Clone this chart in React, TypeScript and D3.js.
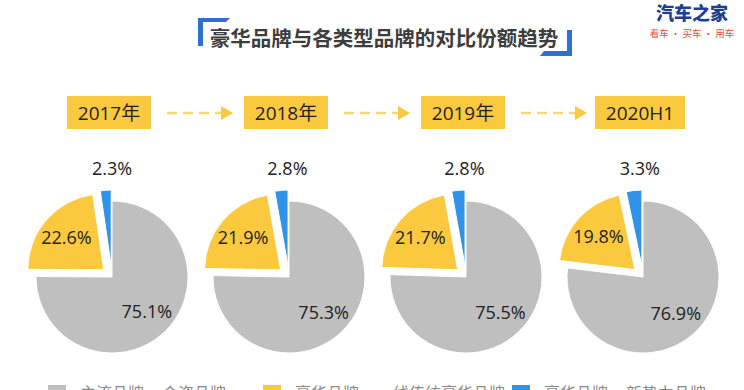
import React from 'react';
import * as d3 from 'd3';

// data
const years = ['2017年', '2018年', '2019年', '2020H1'];
const greyShare = [75.1, 75.3, 75.5, 76.9];
const yellowShare = [22.6, 21.9, 21.7, 19.8];
const blueShare = [2.3, 2.8, 2.8, 3.3];
const sliceNames = ['grey', 'yellow', 'blue'];
const legendLabels = [
  ['主流品牌', '合资品牌'],
  ['豪华品牌', '一线传统豪华品牌'],
  ['豪华品牌', '新势力品牌'],
];

const W = 744;
const H = 390;
const colors: Record<string, string> = {
  grey: '#bfbfbf',
  yellow: '#fac93e',
  blue: '#2f93ea',
};
const FONT = "'Open Sans', 'Noto Sans CJK SC', sans-serif";
const CJK = "'Noto Sans CJK SC', sans-serif";

export default function App() {
  const x = d3.scalePoint<string>().domain(years).range([112, 643]);
  const cy = 277;
  const radius = 76;
  const explode = 11;

  const pie = d3
    .pie<{ name: string; value: number }>()
    .value((d) => d.value)
    .sort(null);
  const arc = d3
    .arc<d3.PieArcDatum<{ name: string; value: number }>>()
    .innerRadius(0)
    .outerRadius(radius);

  return (
    <svg
      width={W}
      height={H}
      style={{ position: 'absolute', left: 0, top: 0, background: '#fff' }}
    >
      {/* title with blue corner brackets */}
      <path d="M198,18 L230,18 L226,22 L203,22 L203,46 L198,46 Z" fill="#2f6fd4" />
      <path d="M572,56 L540,56 L544,51 L567,51 L567,30 L572,30 Z" fill="#2f6fd4" />
      <text
        x={384}
        y={46}
        textAnchor="middle"
        fontFamily={CJK}
        fontSize={20.5}
        fontWeight="bold"
        fill="#3d3d3d"
      >
        豪华品牌与各类型品牌的对比份额趋势
      </text>

      {/* logo */}
      <text x={692} y={20} textAnchor="middle" fontFamily={CJK} fontSize={18} fontWeight="900" fill="#1c3f95">
        汽车之家
      </text>
      <text x={692} y={37} textAnchor="middle" fontFamily={CJK} fontSize={9.5} fill="#e5503a">
        看车 · 买车 · 用车
      </text>

      {years.map((yr, i) => {
        const cx = x(yr) as number;
        const bw = yr.length > 5 ? 90 : 84;
        const data = [greyShare[i], yellowShare[i], blueShare[i]].map((v, k) => ({
          name: sliceNames[k],
          value: v,
        }));
        const arcs = pie(data);
        const next = i < years.length - 1 ? (x(years[i + 1]) as number) : null;
        return (
          <g key={yr}>
            {/* year tag */}
            <rect x={cx - bw / 2 - 3} y={96} width={bw} height={33} fill="#fac93e" />
            <text
              x={cx - 3}
              y={119.5}
              textAnchor="middle"
              fontFamily={FONT}
              fontSize={19}
              fill="#222"
            >
              {yr}
            </text>
            {next !== null && (
              <g>
                <line
                  x1={cx + 55}
                  x2={next - 68}
                  y1={113}
                  y2={113}
                  stroke="#f6d873"
                  strokeWidth={2.5}
                  strokeDasharray="10,6"
                />
                <path
                  d={`M${next - 68},106 L${next - 56},113 L${next - 68},120 Z`}
                  fill="#f8c944"
                />
              </g>
            )}

            {/* pie */}
            {arcs.map((a) => {
              const mid = (a.startAngle + a.endAngle) / 2;
              const off = a.data.name === 'grey' ? 0 : explode;
              const dx = Math.sin(mid) * off;
              const dy = -Math.cos(mid) * off;
              const [lx, ly] =
                a.data.name === 'blue'
                  ? [Math.sin(mid) * (radius + 22), -Math.cos(mid) * (radius + 22)]
                  : [Math.sin(mid) * radius * 0.65, -Math.cos(mid) * radius * 0.65];
              return (
                <g key={a.data.name} transform={`translate(${cx + dx},${cy + dy})`}>
                  <path d={arc(a) || ''} fill={colors[a.data.name]} stroke="#fff" strokeWidth={1} />
                  <text
                    x={a.data.name === 'blue' ? lx + 8 : lx}
                    y={ly}
                    dy="0.35em"
                    textAnchor="middle"
                    fontFamily={FONT}
                    fontSize={18}
                    fill="#222"
                  >
                    {a.data.value.toFixed(1)}%
                  </text>
                </g>
              );
            })}
          </g>
        );
      })}

      {/* legend, cut off at the bottom edge as in the source */}
      {legendLabels.map((lab, i) => {
        const lx = [48, 263, 512][i];
        return (
          <g key={i}>
            <rect x={lx} y={385} width={18} height={10} fill={colors[sliceNames[i]]} />
            <text x={lx + 32} y={399} fontFamily={CJK} fontSize={16} fill="#8a8a8a">
              {lab[0]}
              <tspan dx={18}>{lab[1]}</tspan>
            </text>
          </g>
        );
      })}
    </svg>
  );
}
